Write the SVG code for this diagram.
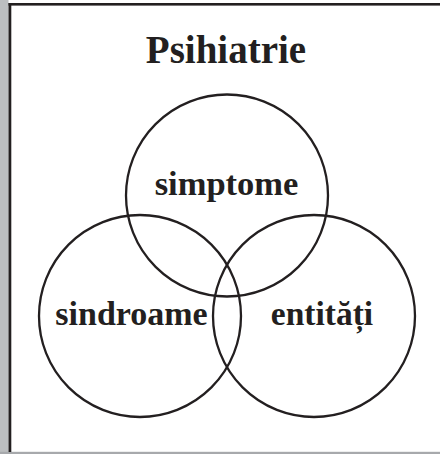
<svg xmlns="http://www.w3.org/2000/svg" width="440" height="454" viewBox="0 0 440 454">
  <style>
    .ring { fill: none; stroke: #231f20; stroke-width: 2.3; }
    .lbl { font-family: "Liberation Serif", "Times New Roman", serif; font-weight: bold; fill: #231f20; text-anchor: middle; }
  </style>
  <rect x="0" y="0" width="440" height="454" fill="#ffffff"/>
  <g id="frame">
    <rect x="0" y="0" width="8.5" height="454" fill="#bcbec0"/>
    <rect x="0" y="451.8" width="440" height="2.2" fill="#a7a9ac"/>
    <rect x="8.5" y="3" width="431.5" height="2.6" fill="#231f20"/>
    <rect x="8.5" y="3" width="2.8" height="449" fill="#231f20"/>
  </g>
  <g id="title">
    <text class="lbl" x="226" y="63" font-size="39">Psihiatrie</text>
  </g>
  <g id="connectors"></g>
  <g id="node-simptome">
    <circle class="ring" cx="227" cy="195.5" r="101"/>
    <text class="lbl" x="226.5" y="195" font-size="34.5">simptome</text>
  </g>
  <g id="node-sindroame">
    <circle class="ring" cx="140" cy="316" r="101"/>
    <text class="lbl" x="131.5" y="325" font-size="34">sindroame</text>
  </g>
  <g id="node-entitati">
    <circle class="ring" cx="314" cy="316" r="101"/>
    <text class="lbl" x="322" y="325" font-size="33.5">entități</text>
  </g>
</svg>
